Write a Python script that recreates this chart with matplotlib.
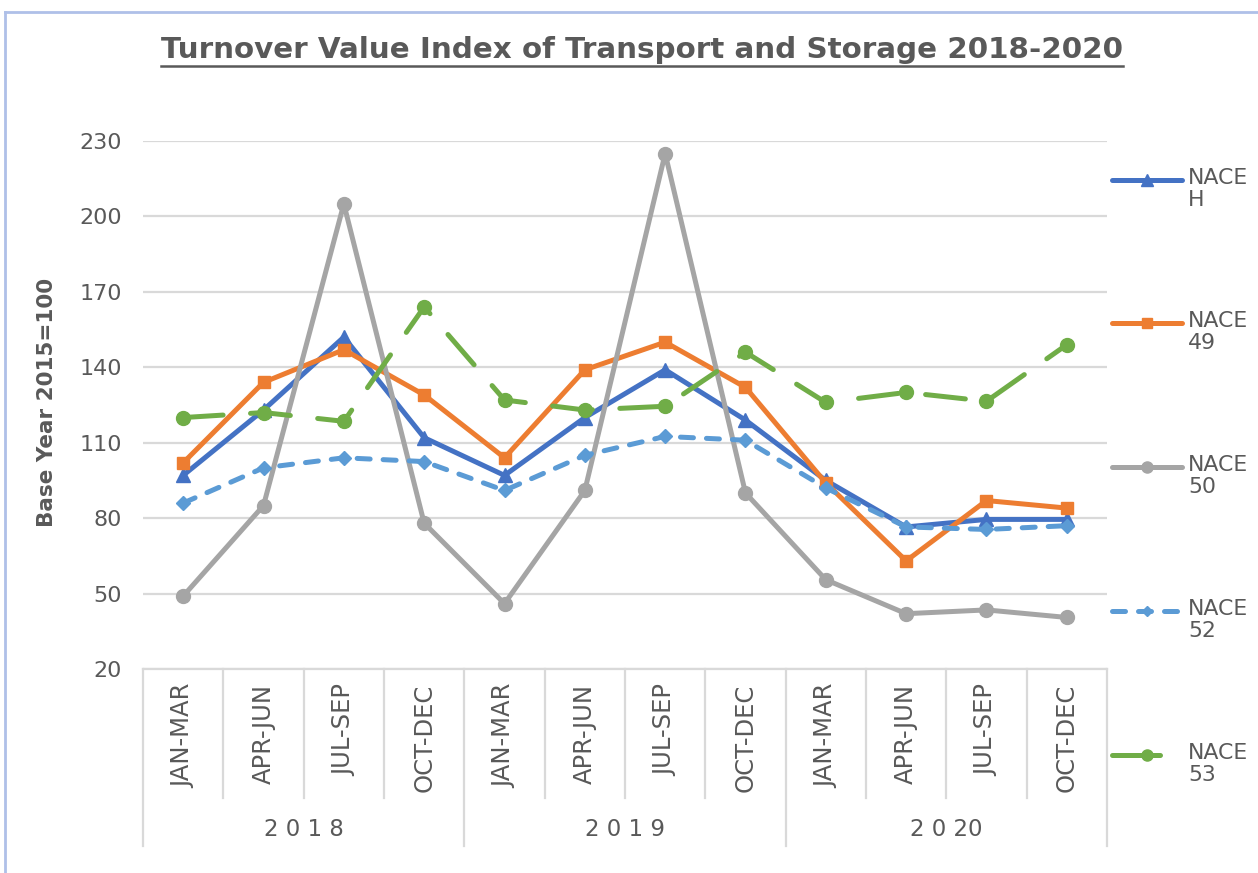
import matplotlib
matplotlib.use("Agg")
import matplotlib.pyplot as plt
from matplotlib.lines import Line2D

W, H = 1258, 873
DPI = 100

quarters = ["JAN-MAR", "APR-JUN", "JUL-SEP", "OCT-DEC"] * 3
years = ["2 0 1 8", "2 0 1 9", "2 0 20"]
yticks = [20, 50, 80, 110, 140, 170, 200, 230]

series_names = ["NACE\nH", "NACE\n49", "NACE\n50", "NACE\n52", "NACE\n53"]
nace_h = [97, 123, 152, 112, 97, 120, 139, 119, 95, 76.5, 79.5, 79.5]
nace_49 = [102, 134, 147, 129, 104, 139, 150, 132, 94, 63, 87, 84]
nace_50 = [49, 85, 205, 78, 46, 91, 225, 90, 55.5, 42, 43.5, 40.5]
nace_52 = [86, 100, 104, 102.5, 91, 105, 112.5, 111, 92, 76.5, 75.5, 77]
nace_53 = [120, 122, 118.5, 164, 127, 123, 124.5, 146, 126, 130, 126.5, 149]

colors = ["#4472C4", "#ED7D31", "#A5A5A5", "#5B9BD5", "#70AD47"]
markers = ["^", "s", "o", "D", "o"]
msizes = [10, 9, 10, 7, 10]
dashes = [None, None, None, (2.6, 2.6), (8, 5.5)]
TXT = "#595959"
GRID = "#D9D9D9"

fig = plt.figure(figsize=(W / DPI, H / DPI), dpi=DPI)
fig.patch.set_facecolor("white")

def fx(px):
    return px / W

def fy(py):
    return 1 - py / H

ax_l, ax_r, ax_t, ax_b = 143, 1107, 141, 669
ax = fig.add_axes([fx(ax_l), fy(ax_b), fx(ax_r - ax_l), (ax_b - ax_t) / H])
ax.set_facecolor("white")

x = list(range(len(quarters)))
all_series = [nace_h, nace_49, nace_50, nace_52, nace_53]
lw = 3.6
for i, vals in enumerate(all_series):
    kw = dict(color=colors[i], lw=lw, marker=markers[i], ms=msizes[i],
              markerfacecolor=colors[i], markeredgecolor=colors[i],
              solid_joinstyle="round", solid_capstyle="round",
              dash_capstyle="round", dash_joinstyle="round", zorder=3 + i)
    ln, = ax.plot(x, vals, **kw)
    if dashes[i] is not None:
        ln.set_dashes(dashes[i])

ax.set_xlim(-0.5, len(quarters) - 0.5)
ax.set_ylim(20, 230)
ax.set_yticks(yticks)
ax.set_yticklabels([str(v) for v in yticks], color=TXT, fontsize=16)
ax.tick_params(axis="y", length=0, pad=15)
ax.set_xticks([])
ax.grid(axis="y", color=GRID, lw=1.6)
ax.set_axisbelow(True)
for s in ["left", "right", "top"]:
    ax.spines[s].set_visible(False)
ax.spines["bottom"].set_color(GRID)
ax.spines["bottom"].set_linewidth(1.6)

# multi-level category axis
ah = ax_b - ax_t
def ay(py):
    return -(py - ax_b) / ah

trans = ax.get_xaxis_transform()
n = len(quarters)
for k in range(n + 1):
    bottom = 846 if k % 4 == 0 else 798
    ax.add_line(Line2D([k - 0.5, k - 0.5], [0, ay(bottom)], color=GRID, lw=1.6,
                       transform=trans, clip_on=False))
for k, q in enumerate(quarters):
    ax.text(k, ay(684), q, rotation=90, ha="center", va="top", color=TXT,
            fontsize=17.5, transform=trans)
for j, yr in enumerate(years):
    ax.text(4 * j + 1.5, ay(830), yr, ha="center", va="center", color=TXT,
            fontsize=16.5, transform=trans)

# y label
fig.text(fx(47), fy(402), "Base Year 2015=100", rotation=90, ha="center",
         va="center", fontsize=15.5, fontweight="bold", color=TXT)

# title with underline
title = fig.text(fx(642), fy(50), "Turnover Value Index of Transport and Storage 2018-2020",
                 ha="center", va="center", fontsize=21.2, fontweight="bold", color=TXT)

# legend (manual)
leg_y = [180, 323, 467, 611, 755]
for i, name in enumerate(series_names):
    yy = fy(leg_y[i])
    x1 = 1160 if i == 4 else 1182
    ln = Line2D([fx(1112), fx(1147), fx(x1)], [yy, yy, yy], color=colors[i], lw=lw,
                marker=markers[i], ms=msizes[i] - 2, markevery=[1],
                markerfacecolor=colors[i], markeredgecolor=colors[i],
                solid_capstyle="round", dash_capstyle="round",
                transform=fig.transFigure)
    if i == 3:
        ln.set_dashes((2.6, 2.6))
    fig.add_artist(ln)
    fig.text(fx(1188), yy + 12 / H, name, ha="left", va="top", fontsize=15.8,
             color=TXT, linespacing=1.12)

# chart border (left and top visible)
fig.add_artist(Line2D([fx(5), fx(5)], [fy(12), 0], color="#AFC0E8", lw=2,
                      transform=fig.transFigure))
fig.add_artist(Line2D([fx(5), 1], [fy(12), fy(12)], color="#AFC0E8", lw=2,
                      transform=fig.transFigure))

fig.canvas.draw()
bb = title.get_window_extent()
uy = fy(66)
fig.add_artist(Line2D([bb.x0 / W, bb.x1 / W], [uy, uy], color=TXT, lw=1.8,
                      transform=fig.transFigure))

fig.savefig("out.png", dpi=DPI, facecolor="white")
